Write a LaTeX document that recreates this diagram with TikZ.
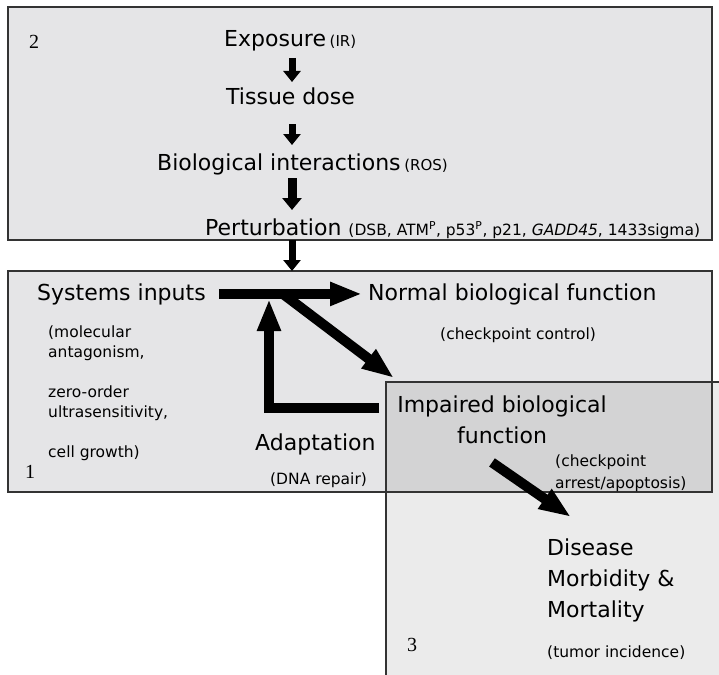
\documentclass[tikz,border=0pt]{standalone}
\usepackage{fontspec}
\setmainfont{DejaVu Sans}
\newfontfamily\numfont{Liberation Serif}
\usetikzlibrary{arrows.meta}
\definecolor{panel}{RGB}{229,229,231}
\definecolor{rim}{RGB}{51,51,51}

% smaller print for the bracketed remarks
\newcommand{\paren}[1]{{\fontsize{15.5}{18}\selectfont #1}}
\newcommand{\wee}[1]{{\fontsize{15}{17}\selectfont #1}}

\tikzset{
    zone/.style={draw=rim, line width=1.5pt, fill=panel, inner sep=0pt, outer sep=0pt, anchor=north west},
    txt/.style={font=\fontsize{22}{31}\selectfont, inner sep=0pt, anchor=base west},
    note/.style={font=\fontsize{15.5}{20}\selectfont, inner sep=0pt, anchor=base west, align=left},
    numtag/.style={font=\numfont\fontsize{20}{24}\selectfont, inner sep=0pt},
    fat/.style={line width=10pt, -{Triangle[length=32pt,width=22pt]}},
    stem/.style={line width=7pt, -{Triangle[length=11pt,width=17pt]}},
}

\begin{document}
\begin{tikzpicture}[x=1pt,y=-1pt]
    \useasboundingbox (0,0) rectangle (719,674);

    % the three panels
    \node[zone, minimum width=704pt, minimum height=233pt] (zone2) at (8,7) {};
    \node[zone, minimum width=704pt, minimum height=221pt] (zone1) at (8,271) {};
    \node[zone, minimum width=340pt, minimum height=300pt, fill=black, fill opacity=0.08, line width=1.2pt] (zone3) at (386,382) {};
    \draw[rim, line width=1.5pt] (zone1.north west) rectangle (zone1.south east);

    % panel 2: from exposure to perturbation
    \coordinate (spine) at (292,0);
    \node[numtag] (n2) at (34,42) {2};
    \node[txt] (exp) at (224,47) {Exposure\,\wee{(IR)}};
    \node[txt] (tis) at (226,104) {Tissue dose};
    \node[txt] (bio) at (157,170) {Biological interactions\,\wee{(ROS)}};
    \node[txt] (pert) at (205,235) {Perturbation \paren{(DSB, ATM\textsuperscript{P}, p53\textsuperscript{P}, p21, \textit{GADD45}, 1433sigma)}};

    \draw[stem] ([yshift=-11pt]exp.base -| spine) -- ([yshift=22pt]tis.base -| spine);
    \draw[stem] ([yshift=-20pt]tis.base -| spine) -- ([yshift=25pt]bio.base -| spine);
    \draw[stem, line width=9pt, -{Triangle[length=12pt,width=19pt]}] ([yshift=-8pt]bio.base -| spine) -- ([yshift=25pt]pert.base -| spine);
    \draw[stem] (zone2.south -| spine) -- (zone1.north -| spine);

    % panel 1: system response
    \node[txt] (sys) at (37,300) {Systems inputs};
    \node[txt] (norm) at (368,300) {Normal biological function};
    \node[note] (normnote) at (440,339) {(checkpoint control)};
    \node[note, anchor=north west] (mech) at (48,326) {(molecular\\antagonism,\\[20pt]zero-order\\ultrasensitivity,\\[20pt]cell growth)};
    \node[numtag] (n1) at (30,472) {1};
    \node[txt] (adapt) at (255,450) {Adaptation};
    \node[note] (repair) at (270,484) {(DNA repair)};

    \coordinate (fork) at (283,294);
    \coordinate (loop) at (269,299);
    \coordinate (back) at (379,408);
    \draw[fat] ([xshift=13pt]sys.east) -- ([xshift=-6pt]norm.west);
    \draw[fat] (fork) -- ([xshift=8pt,yshift=4pt]zone3.north west);
    \draw[fat] (back) -| (loop);

    % panel 3: impairment and disease
    \node[txt, anchor=north, align=center] (imp) at (502,396) {Impaired biological\\function};
    \node[note, anchor=north west, font=\fontsize{15.5}{22}\selectfont] (impnote) at (555,455) {(checkpoint\\arrest/apoptosis)};
    \node[txt, anchor=north west, align=left] (dis) at (547,539) {Disease\\Morbidity \&\\Mortality};
    \node[numtag] (n3) at (412,645) {3};
    \node[note] (tumor) at (547,657) {(tumor incidence)};

    \draw[fat] ([xshift=-10pt,yshift=-18pt]imp.south) -- ([xshift=24pt,yshift=22pt]dis.north west);
\end{tikzpicture}
\end{document}
